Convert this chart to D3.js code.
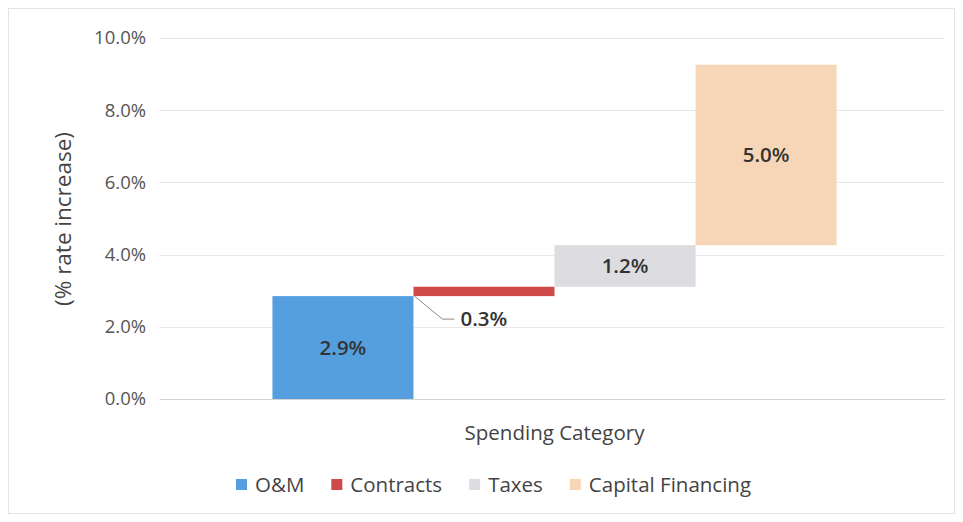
<!DOCTYPE html>
<html>
<head>
<meta charset="utf-8">
<script src="https://cdn.jsdelivr.net/npm/d3@7"></script>
<style>
  body { margin: 0; background: #fff; }
  text { font-family: "Open Sans", sans-serif; }
</style>
</head>
<body>
<script>
// waterfall of rate increase by spending category
var category = "Spending Category";
var seriesNames = ["O&M", "Contracts", "Taxes", "Capital Financing"];
var seriesValues = [2.85, 0.26, 1.15, 5.0];   // % rate increase
var seriesLabels = ["2.9%", "0.3%", "1.2%", "5.0%"];
var seriesColors = ["#559fdf", "#cf4a4a", "#dcdce1", "#f7d6b7"];
var yTicks = [0, 2, 4, 6, 8, 10];

var W = 963, H = 522;
var plot = {left: 160, right: 945, top: 38, bottom: 399};

var svg = d3.select("body").append("svg").attr("width", W).attr("height", H);

// faint chart border
svg.append("rect")
  .attr("x", 8.5).attr("y", 8.5).attr("width", W - 17).attr("height", H - 17)
  .attr("fill", "none").attr("stroke", "#e4e4e4");

var y = d3.scaleLinear().domain([0, 10]).range([plot.bottom, plot.top]);

var x0 = d3.scaleBand().domain([category]).range([plot.left + 3, plot.right + 1])
  .paddingOuter(0.194).paddingInner(0);
var x1 = d3.scaleBand().domain(seriesNames).range([0, x0.bandwidth()]).padding(0);

// gridlines
svg.append("g").selectAll("line")
  .data(yTicks).enter().append("line")
    .attr("x1", plot.left).attr("x2", plot.right)
    .attr("y1", function(d){ return Math.round(y(d)) + 0.5; })
    .attr("y2", function(d){ return Math.round(y(d)) + 0.5; })
    .attr("stroke", function(d){ return d === 0 ? "#d4d4d4" : "#e8e8e8"; });

// y axis labels
var yAxis = d3.axisLeft(y).tickValues(yTicks)
  .tickFormat(function(d){ return d3.format(".1f")(d) + "%"; })
  .tickSize(0).tickPadding(14);
var ya = svg.append("g").attr("transform", "translate(" + plot.left + ",0)").call(yAxis);
ya.select(".domain").remove();
ya.selectAll("text").attr("font-size", 18.5).attr("fill", "#555")
  .style("font-family", "'Open Sans', sans-serif");

svg.append("text")
  .attr("transform", "translate(63,219) rotate(-90)")
  .attr("dy", "0.35em")
  .attr("text-anchor", "middle").attr("font-size", 22.5).attr("fill", "#444")
  .text("(% rate increase)");

// bars, each starting where the previous one ended
var bases = [];
var run = 0;
seriesValues.forEach(function(v){ bases.push(run); run += v; });

var bars = seriesNames.map(function(name, i){
  return {name: name, base: bases[i], value: seriesValues[i], label: seriesLabels[i], color: seriesColors[i]};
});

var g = svg.append("g").attr("transform", "translate(" + x0(category) + ",0)");

g.selectAll("rect.bar")
  .data(bars).enter().append("rect")
    .attr("class", "bar")
    .attr("x", function(d){ return x1(d.name); })
    .attr("width", x1.bandwidth())
    .attr("y", function(d){ return y(d.base + d.value); })
    .attr("height", function(d){ return y(d.base) - y(d.base + d.value); })
    .attr("fill", function(d){ return d.color; });

// data labels
bars.forEach(function(d){
  var h = y(d.base) - y(d.base + d.value);
  if (h > 30) {
    g.append("text")
      .attr("x", x1(d.name) + x1.bandwidth() / 2)
      .attr("y", (y(d.base) + y(d.base + d.value)) / 2)
      .attr("dy", "0.35em").attr("text-anchor", "middle")
      .attr("font-size", 20.5).attr("font-weight", 600).attr("fill", "#333")
      .text(d.label);
  } else {
    // thin bar: label pulled out with a leader line
    var sx = x1(d.name) + 1, sy = y(d.base);
    var lx = sx + 40, ly = sy + 23;
    g.append("path")
      .attr("d", "M" + sx + "," + sy + "L" + (sx + 28) + "," + ly + "L" + lx + "," + ly)
      .attr("fill", "none").attr("stroke", "#8a8a8a").attr("stroke-width", 1);
    g.append("text")
      .attr("x", lx + 6).attr("y", ly).attr("dy", "0.35em")
      .attr("font-size", 20.5).attr("font-weight", 600).attr("fill", "#333")
      .text(d.label);
  }
});

// category label
svg.append("text")
  .attr("x", x0(category) + x0.bandwidth() / 2).attr("y", 433)
  .attr("dy", "0.35em").attr("text-anchor", "middle")
  .attr("font-size", 20.5).attr("fill", "#444")
  .text(category);

// legend: items laid out left to right
var legend = svg.append("g").attr("transform", "translate(236,485)");
var cursor = 0;
bars.forEach(function(d){
  var it = legend.append("g").attr("transform", "translate(" + cursor + ",0)");
  it.append("rect").attr("x", 0).attr("y", -6).attr("width", 11).attr("height", 11)
    .attr("fill", d.color);
  var t = it.append("text").attr("x", 19).attr("dy", "0.35em")
    .attr("font-size", 20.5).attr("fill", "#444")
    .text(d.name);
  cursor += 19 + t.node().getComputedTextLength() + 27;
});
</script>
</body>
</html>
